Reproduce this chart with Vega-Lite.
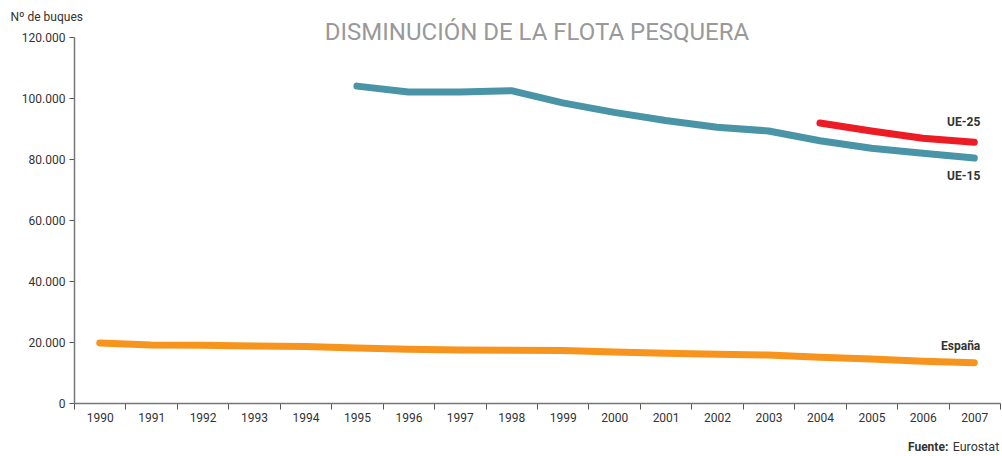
{
  "$schema": "https://vega.github.io/schema/vega-lite/v6.json",
  "width": 926,
  "height": 366,
  "autosize": {"type": "none"},
  "padding": {"left": 74, "top": 37, "right": 2, "bottom": 53},
  "background": "white",
  "config": {"view": {"stroke": null}, "font": "Roboto"},
  "title": {"text": "DISMINUCIÓN DE LA FLOTA PESQUERA", "fontSize": 24, "fontWeight": "normal", "color": "#999999", "anchor": "middle", "offset": -35, "font": "Roboto"},
  "data": {"values": [
    {"year": "1990", "serie": "España", "value": 19700},
    {"year": "1991", "serie": "España", "value": 19000},
    {"year": "1992", "serie": "España", "value": 18900},
    {"year": "1993", "serie": "España", "value": 18700},
    {"year": "1994", "serie": "España", "value": 18500},
    {"year": "1995", "serie": "España", "value": 18000},
    {"year": "1996", "serie": "España", "value": 17600},
    {"year": "1997", "serie": "España", "value": 17400},
    {"year": "1998", "serie": "España", "value": 17300},
    {"year": "1999", "serie": "España", "value": 17200},
    {"year": "2000", "serie": "España", "value": 16700},
    {"year": "2001", "serie": "España", "value": 16300},
    {"year": "2002", "serie": "España", "value": 16000},
    {"year": "2003", "serie": "España", "value": 15700},
    {"year": "2004", "serie": "España", "value": 15000},
    {"year": "2005", "serie": "España", "value": 14400},
    {"year": "2006", "serie": "España", "value": 13700},
    {"year": "2007", "serie": "España", "value": 13200},
    {"year": "1995", "serie": "UE-15", "value": 103900},
    {"year": "1996", "serie": "UE-15", "value": 102000},
    {"year": "1997", "serie": "UE-15", "value": 102000},
    {"year": "1998", "serie": "UE-15", "value": 102400},
    {"year": "1999", "serie": "UE-15", "value": 98400},
    {"year": "2000", "serie": "UE-15", "value": 95300},
    {"year": "2001", "serie": "UE-15", "value": 92600},
    {"year": "2002", "serie": "UE-15", "value": 90400},
    {"year": "2003", "serie": "UE-15", "value": 89200},
    {"year": "2004", "serie": "UE-15", "value": 86000},
    {"year": "2005", "serie": "UE-15", "value": 83500},
    {"year": "2006", "serie": "UE-15", "value": 81900},
    {"year": "2007", "serie": "UE-15", "value": 80300},
    {"year": "2004", "serie": "UE-25", "value": 91800},
    {"year": "2005", "serie": "UE-25", "value": 89200},
    {"year": "2006", "serie": "UE-25", "value": 86800},
    {"year": "2007", "serie": "UE-25", "value": 85500}
  ]},
  "encoding": {
    "x": {"field": "year", "type": "ordinal", "scale": {"type": "band", "paddingInner": 0, "paddingOuter": 0},
      "axis": {"title": null, "labelAngle": 0, "tickBand": "extent", "tickSize": 6, "tickColor": "#555", "domainColor": "#777", "domainWidth": 1.5, "labelFontSize": 12, "labelColor": "#333", "labelPadding": 3}},
    "y": {"field": "value", "type": "quantitative", "scale": {"domain": [0, 120000]},
      "axis": {"title": "Nº de buques", "titleAngle": 0, "titleAnchor": "start", "titleAlign": "left", "titleBaseline": "middle", "titleX": -64, "titleY": -21, "titleFontSize": 12, "titleFontWeight": "normal", "titleColor": "#333",
        "values": [0, 20000, 40000, 60000, 80000, 100000, 120000], "labelExpr": "replace(format(datum.value, ','), ',', '.')", "grid": false, "tickSize": 5, "tickColor": "#555", "domainColor": "#777", "domainWidth": 1.5, "labelFontSize": 12, "labelColor": "#333", "labelPadding": 4}}
  },
  "layer": [
    {"mark": {"type": "line", "strokeWidth": 7, "strokeCap": "round", "strokeJoin": "round"},
      "encoding": {"color": {"field": "serie", "type": "nominal", "scale": {"domain": ["UE-15", "UE-25", "España"], "range": ["#4a94a8", "#ed1c24", "#f7941d"]}, "legend": null}}},
    {"transform": [{"filter": "datum.year == '2007' && datum.serie == 'UE-25'"}],
      "mark": {"type": "text", "align": "right", "dx": 6, "dy": -20, "fontSize": 12, "fontWeight": "bold", "color": "#333"},
      "encoding": {"text": {"field": "serie"}}},
    {"transform": [{"filter": "datum.year == '2007' && datum.serie == 'UE-15'"}],
      "mark": {"type": "text", "align": "right", "dx": 6, "dy": 18, "fontSize": 12, "fontWeight": "bold", "color": "#333"},
      "encoding": {"text": {"field": "serie"}}},
    {"transform": [{"filter": "datum.year == '2007' && datum.serie == 'España'"}],
      "mark": {"type": "text", "align": "right", "dx": 6, "dy": -17, "fontSize": 12, "fontWeight": "bold", "color": "#333"},
      "encoding": {"text": {"field": "serie"}}},
    {"transform": [{"filter": "datum.year == '2007' && datum.serie == 'España'"}],
      "mark": {"type": "text", "align": "right", "baseline": "middle", "dx": 25, "fontSize": 12.5, "color": "#333", "text": "Eurostat"},
      "encoding": {"y": {"datum": -14500}}},
    {"transform": [{"filter": "datum.year == '2007' && datum.serie == 'España'"}],
      "mark": {"type": "text", "align": "right", "baseline": "middle", "dx": -26, "fontSize": 12, "fontWeight": "bold", "color": "#333", "text": "Fuente:"},
      "encoding": {"y": {"datum": -14500}}}
  ]
}
